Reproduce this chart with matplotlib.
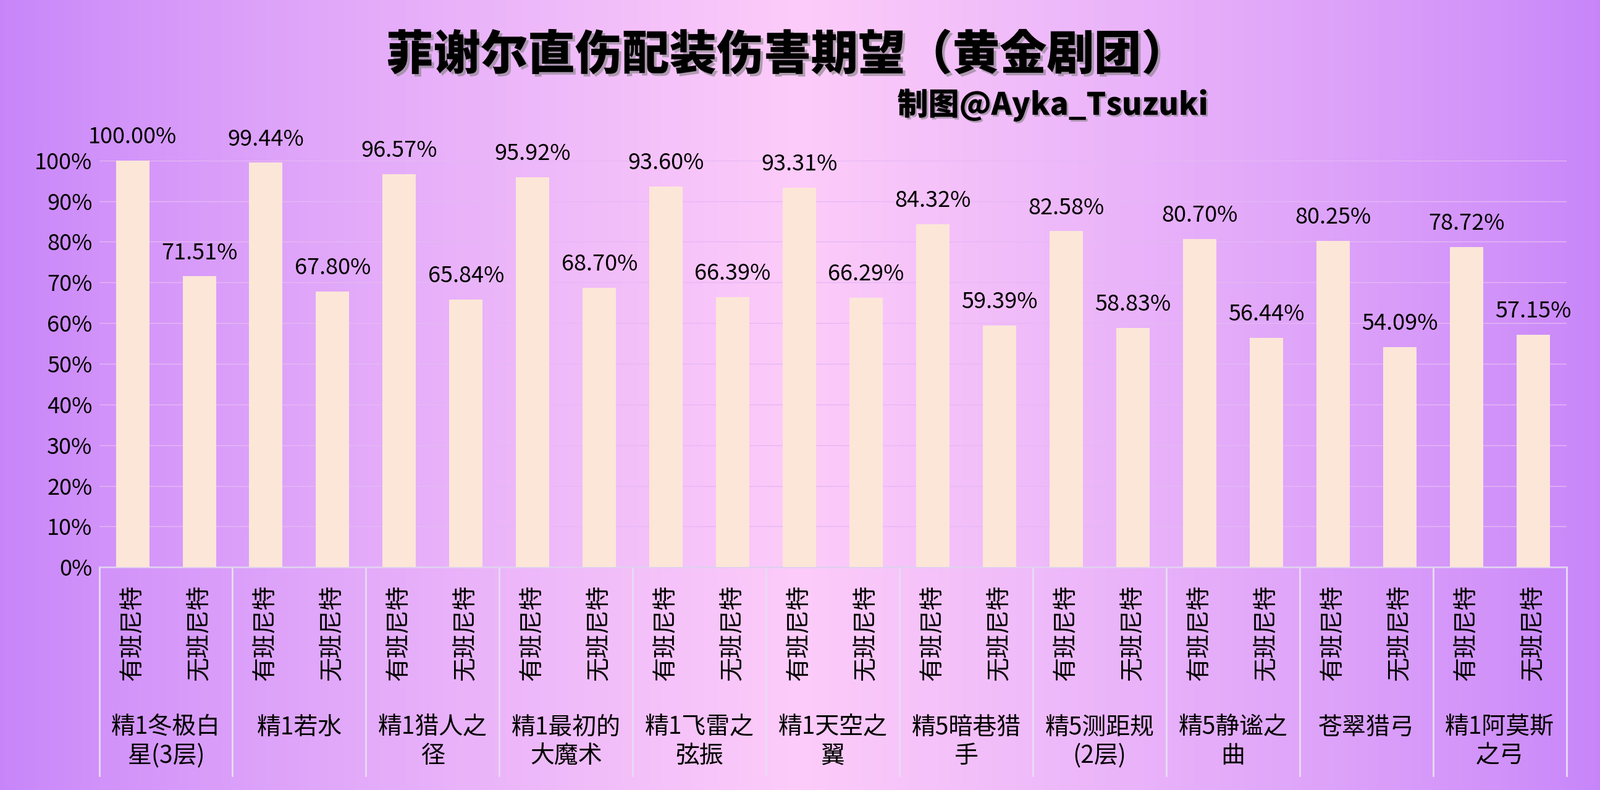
import numpy as np
import matplotlib.pyplot as plt
import matplotlib.patheffects as pe
from matplotlib.transforms import blended_transform_factory

plt.rcParams['font.family'] = ['Noto Sans CJK SC', 'Noto Sans CJK JP', 'Noto Sans CJK TC', 'DejaVu Sans']

weapons = ['精1冬极白\n星(3层)', '精1若水', '精1猎人之\n径', '精1最初的\n大魔术', '精1飞雷之\n弦振',
           '精1天空之\n翼', '精5暗巷猎\n手', '精5测距规\n(2层)', '精5静谧之\n曲', '苍翠猎弓', '精1阿莫斯\n之弓']
sub_labels = ['有班尼特', '无班尼特']
with_bennett = [100.00, 99.44, 96.57, 95.92, 93.60, 93.31, 84.32, 82.58, 80.70, 80.25, 78.72]
without_bennett = [71.51, 67.80, 65.84, 68.70, 66.39, 66.29, 59.39, 58.83, 56.44, 54.09, 57.15]
yticks = np.arange(0, 101, 10)

fig = plt.figure(figsize=(25.9, 12.79), dpi=100)

# background gradient purple - pink - purple
bg = fig.add_axes([0, 0, 1, 1])
x = np.linspace(0, 1, 512)
t = np.clip(1 - np.abs(x - 0.5) * 2, 0, 1) ** 0.8
c1 = np.array([0.78, 0.52, 0.98])
c2 = np.array([0.99, 0.80, 0.98])
grad = c1[None, :] * (1 - t[:, None]) + c2[None, :] * t[:, None]
bg.imshow(grad[None, :, :], aspect='auto', extent=[0, 1, 0, 1])
bg.axis('off')

ax = fig.add_axes([0.062, 0.282, 0.917, 0.515])
ax.patch.set_alpha(0)
n = len(weapons)
pos1 = np.arange(n) * 2 + 0.5
pos2 = pos1 + 1
bw = 0.5
barcolor = '#fce6d8'
ax.bar(pos1, with_bennett, width=bw, color=barcolor, zorder=3)
ax.bar(pos2, without_bennett, width=bw, color=barcolor, zorder=3)
for p, v in zip(np.concatenate([pos1, pos2]), with_bennett + without_bennett):
    ax.text(p, v + 3.0, f'{v:.2f}%', ha='center', va='bottom', fontsize=26, color='black')

ax.set_xlim(0, 2 * n)
ax.set_ylim(0, 100)
ax.set_yticks(yticks)
ax.set_yticklabels([f'{v}%' for v in yticks], fontsize=26)
ax.tick_params(axis='y', length=0, pad=8)
ax.set_xticks([])
ax.grid(axis='y', color='#e6b8f4', linewidth=1, zorder=0)
for s in ['top', 'right', 'left']:
    ax.spines[s].set_visible(False)
ax.spines['bottom'].set_color('#e0d0f0')
ax.spines['bottom'].set_linewidth(2)

tr = blended_transform_factory(ax.transData, fig.transFigure)
for i in range(n + 1):
    ax.plot([2 * i, 2 * i], [0.282, 0.018], transform=tr, color='#e8dcf4', lw=2, clip_on=False)
for i in range(n):
    for j, lab in enumerate(sub_labels):
        ax.text(2 * i + 0.5 + j, 0.199, lab, transform=tr, rotation=90, ha='center', va='center', fontsize=28)
    ax.text(2 * i + 1, 0.095, weapons[i], transform=tr, ha='center', va='top', fontsize=28, linespacing=1.2)

fig.text(0.492, 0.93, '菲谢尔直伤配装伤害期望（黄金剧团）', ha='center', va='center', fontsize=55, weight='heavy',
         path_effects=[pe.withSimplePatchShadow(offset=(3, -3), shadow_rgbFace='gray', alpha=0.6)])
fig.text(0.658, 0.867, '制图@Ayka_Tsuzuki', ha='center', va='center', fontsize=36, weight='heavy',
         path_effects=[pe.withSimplePatchShadow(offset=(2, -2), shadow_rgbFace='gray', alpha=0.6)])

fig.savefig('out.png', dpi=100)
